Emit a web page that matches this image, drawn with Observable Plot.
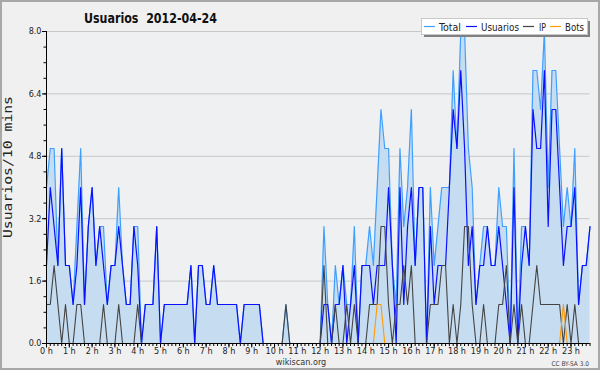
<!DOCTYPE html>
<html><head><meta charset="utf-8">
<script src="https://cdn.jsdelivr.net/npm/d3@7"></script>
<script src="https://cdn.jsdelivr.net/npm/@observablehq/plot@0.6"></script>
<style>
body{margin:0;background:#f0f0f0;}
#chart{width:600px;height:370px;}
</style></head><body><div id="chart"></div>
<script>
// users per 10-minute slot, 2012-04-24 (144 slots)
const total = [
4,5,5,2,5,2,2,1,3,5, 1,3,4,2,3,3,1,2,2,4, 2,1,1,3,3,0,1,1,1,3,
0,1,1,1,1,1,1,1,2,0, 2,2,1,1,2,1,1,1,1,1, 1,0,1,1,1,1,1,0,0,0,
0,0,0,1,0,0,0,0,0,0, 0,0,0,3,1,0,2,1,2,1, 1,3,0,2,2,3,2,4,6,5,
5,2,1,5,3,4,6,2,4,4, 0,4,2,3,4,4,4,7,5,8, 8,5,4,1,2,3,3,2,2,4,
3,3,0,5,0,3,3,2,7,7, 6,8,4,7,7,5,3,4,3,5, 1,2,2,3];
const usuarios = [
2,4,3,2,5,2,2,1,2,4, 1,3,4,2,3,2,1,2,2,3, 2,1,1,3,2,0,1,1,1,3,
0,1,1,1,1,1,1,1,2,0, 2,2,1,1,2,1,1,1,1,1, 1,0,1,1,1,1,1,0,0,0,
0,0,0,0,0,0,0,0,0,0, 0,0,0,1,1,0,1,1,2,0, 1,2,0,2,2,2,1,2,2,2,
4,2,0,4,1,3,4,2,4,4, 0,3,1,2,2,2,4,6,5,7, 5,2,3,1,2,2,3,2,2,3,
2,1,0,4,0,2,3,2,6,5, 5,7,3,6,6,4,2,3,3,4, 1,2,2,3];
const ip = [
1,1,2,1,0,1,0,0,1,1, 0,0,0,0,0,1,0,0,0,1, 0,0,0,0,1,0,0,0,0,0,
0,0,0,0,0,0,0,0,0,0, 0,0,0,0,0,0,0,0,0,0, 0,0,0,0,0,0,0,0,0,0,
0,0,0,1,0,0,0,0,0,0, 0,0,0,2,0,0,1,0,0,1, 0,1,0,0,0,1,1,1,3,3,
1,0,1,1,2,1,2,0,0,0, 0,1,1,1,2,2,0,1,0,1, 3,3,1,0,0,1,0,0,0,1,
1,2,0,1,0,1,0,0,1,2, 1,1,1,1,1,1,0,1,0,1, 0,0,0,0];
const bots = [
0,0,0,0,0,0,0,0,0,0, 0,0,0,0,0,0,0,0,0,0, 0,0,0,0,0,0,0,0,0,0,
0,0,0,0,0,0,0,0,0,0, 0,0,0,0,0,0,0,0,0,0, 0,0,0,0,0,0,0,0,0,0,
0,0,0,0,0,0,0,0,0,0, 0,0,0,0,0,0,0,0,0,0, 0,0,0,0,0,0,0,1,1,0,
0,0,0,0,0,0,0,0,0,0, 0,0,0,0,0,0,0,0,0,0, 0,0,0,0,0,0,0,0,0,0,
0,0,0,0,0,0,0,0,0,0, 0,0,0,0,0,0,1,0,0,0, 0,0,0,0];
const hourLabels = ["0 h","1 h","2 h","3 h","4 h","5 h","6 h","7 h","8 h","9 h","10 h","11 h",
  "12 h","13 h","14 h","15 h","16 h","17 h","18 h","19 h","20 h","21 h","22 h","23 h"];
const yTicks = [0, 1.6, 3.2, 4.8, 6.4, 8.0];
const yMinor = d3.range(0, 8.001, 0.4);
const seriesNames = ["Total", "Usuarios", "IP", "Bots"];
const seriesColors = ["#3f9fff", "#0a10ff", "#444444", "#ff9a00"];

const slots = d3.range(total.length);              // slot index -> hour = i/6
const rows = slots.map(i => ({h: i / 6, total: total[i], usuarios: usuarios[i], ip: ip[i], bots: bots[i]}));
const hours = d3.range(hourLabels.length);

const font = "'DejaVu Sans Condensed','DejaVu Sans',sans-serif";

const chart = Plot.plot({
  width: 600, height: 370,
  marginLeft: 46, marginRight: 10.5, marginTop: 31, marginBottom: 27,
  style: {background: "#f0f0f0", fontFamily: font, color: "#222"},
  x: {domain: [0, (total.length - 1) / 6], axis: null},
  y: {domain: [0, 8], axis: null},
  marks: [
    Plot.frame({fill: "#eef0f2", stroke: null}),
    Plot.gridY(yTicks.slice(1), {stroke: "#c8c8c8", strokeOpacity: 1}),
    Plot.areaY(rows, {x: "h", y: "total", fill: "#c6ddf1", curve: "linear"}),
    Plot.line(rows, {x: "h", y: "total", stroke: seriesColors[0], strokeWidth: 1.2}),
    Plot.line(rows, {x: "h", y: "usuarios", stroke: seriesColors[1], strokeWidth: 1.2}),
    Plot.line(rows, {x: "h", y: "ip", stroke: seriesColors[2], strokeWidth: 1.1}),
    Plot.line(rows, {x: "h", y: "bots", stroke: seriesColors[3], strokeWidth: 1.1}),
    Plot.axisY(yMinor, {tickSize: 2.5, tickFormat: () => "", label: null, stroke: "#000"}),
    Plot.axisY(yTicks, {tickSize: 4, tickPadding: 1, tickFormat: d => d.toFixed(1), fontSize: 9, label: null, stroke: "#000"}),
    Plot.axisX(slots.map(i => i / 6), {tickSize: 3, tickFormat: () => "", label: null, stroke: "#000"}),
    Plot.axisX(hours, {tickSize: 4.5, tickPadding: -0.5, tickFormat: i => hourLabels[i], fontSize: 9, label: null, stroke: "#000"}),
    Plot.ruleX([0], {stroke: "#000"}),
    Plot.ruleY([0], {stroke: "#000"})
  ]
});
document.getElementById("chart").append(chart);

const svg = d3.select(chart);
svg.append("rect").attr("x", 1).attr("y", 1).attr("width", 598).attr("height", 368)
  .attr("fill", "none").attr("stroke", "#a8a8a8").attr("stroke-width", 2);
svg.append("text").text("Usuarios  2012-04-24")
  .attr("x", 84).attr("y", 23).attr("text-anchor", "start").attr("font-family", font).attr("font-weight", "bold")
  .attr("font-size", 14).attr("fill", "#111").attr("textLength", 133).attr("lengthAdjust", "spacingAndGlyphs")
  .style("white-space", "pre");
svg.append("text").text("Usuarios/10 mins")
  .attr("transform", "translate(12,167) rotate(-90)").attr("text-anchor", "middle")
  .attr("font-family", "'DejaVu Sans Mono',monospace").attr("font-size", 12).attr("fill", "#222")
  .attr("textLength", 142).attr("lengthAdjust", "spacingAndGlyphs");
svg.append("text").text("wikiscan.org").attr("x", 301).attr("y", 365).attr("text-anchor", "middle")
  .attr("font-family", font).attr("font-size", 9).attr("fill", "#333");
svg.append("text").text("CC BY-SA 3.0").attr("x", 589).attr("y", 366).attr("text-anchor", "end")
  .attr("font-family", font).attr("font-size", 6.5).attr("fill", "#444");

// legend
const lg = svg.append("g");
lg.append("rect").attr("x", 424).attr("y", 21).attr("width", 166).attr("height", 16).attr("fill", "#808080");
lg.append("rect").attr("x", 421.5).attr("y", 18.5).attr("width", 166).attr("height", 16).attr("fill", "#fff").attr("stroke", "#c8c8c8");
const items = [{x: 424, tx: 439, w: 22}, {x: 466, tx: 481, w: 38}, {x: 523, tx: 539, w: 7}, {x: 550, tx: 565, w: 19}];
items.forEach((it, k) => {
  lg.append("line").attr("x1", it.x).attr("x2", it.x + 11).attr("y1", 26.5).attr("y2", 26.5)
    .attr("stroke", seriesColors[k]).attr("stroke-width", 1.2);
  lg.append("text").text(seriesNames[k]).attr("x", it.tx).attr("y", 30.5).attr("text-anchor", "start")
    .attr("font-family", font).attr("font-size", 11).attr("fill", "#222")
    .attr("textLength", it.w).attr("lengthAdjust", "spacingAndGlyphs");
});
</script></body></html>
